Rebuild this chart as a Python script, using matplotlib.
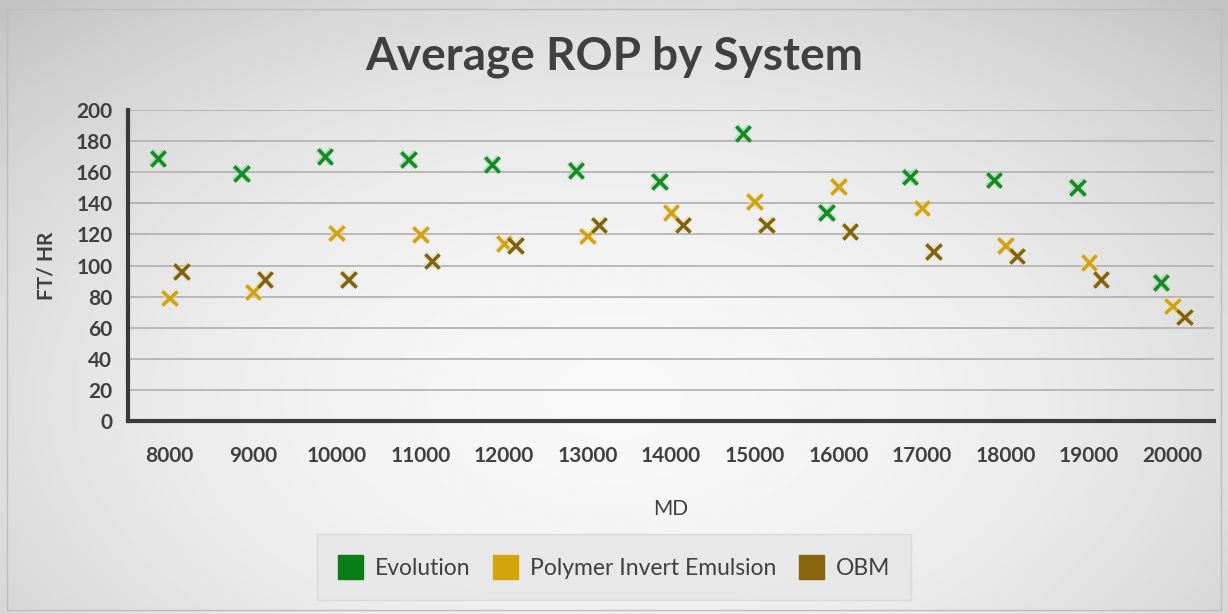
import matplotlib
matplotlib.use("Agg")
import matplotlib.pyplot as plt
import matplotlib.patheffects as pe
import numpy as np
from matplotlib.patches import Patch, Rectangle

plt.rcParams["font.family"] = ["Lato", "DejaVu Sans"]

md = ["8000", "9000", "10000", "11000", "12000", "13000", "14000",
      "15000", "16000", "17000", "18000", "19000", "20000"]
evolution = [169, 159, 170, 168, 165, 161, 154, 185, 134, 157, 155, 150, 89]
polymer = [79, 83, 121, 120, 114, 119, 134, 141, 151, 137, 113, 102, 74]
obm = [96, 91, 91, 103, 113, 126, 126, 126, 122, 109, 106, 91, 67]

series = [
    ("Evolution", evolution, "#168a26", "#8fd49a", -0.14),
    ("Polymer Invert Emulsion", polymer, "#d0a21a", "#f7e2a0", 0.0),
    ("OBM", obm, "#7f6314", "#e8d49a", 0.14),
]
legend_colors = ["#0b7d18", "#d4a40c", "#8a6510"]
text_col = "#404040"

fig = plt.figure(figsize=(12.28, 6.14), dpi=100)

# soft grey background like an Excel chart area
bg = fig.add_axes([0, 0, 1, 1], zorder=-5)
yy, xx = np.mgrid[0:1:300j, 0:1:600j]
r = np.sqrt(((xx - 0.5) / 0.75) ** 2 + ((yy - 0.35) / 0.9) ** 2)
bg.imshow(np.clip(0.97 - 0.22 * r ** 2, 0.76, 0.97), cmap="gray", vmin=0, vmax=1,
          aspect="auto", extent=[0, 1, 0, 1], origin="lower")
bg.set_axis_off()
fig.patches.append(Rectangle((0.006, 0.006), 0.988, 0.979, transform=fig.transFigure,
                             fill=False, edgecolor="#bdbdbd", linewidth=1))

ax = fig.add_axes([0.104, 0.3143, 0.885, 0.5065])
ax.set_facecolor("none")
x = np.arange(len(md))
for name, vals, col, glow, off in series:
    ax.plot(x + off, vals, linestyle="none", marker="x", markersize=10.5,
            markeredgewidth=2.2, color=col, zorder=3,
            path_effects=[pe.withStroke(linewidth=4.5, foreground=glow, alpha=0.6), pe.Normal()])

ax.set_xlim(-0.5, len(md) - 0.5)
ax.set_ylim(0, 200)
ax.set_yticks(range(0, 201, 20))
ax.set_xticks(x)
ax.set_xticklabels(md)
ax.tick_params(length=0, labelsize=15, labelcolor=text_col)
ax.tick_params(axis="x", pad=18)
ax.tick_params(axis="y", pad=11)
for lab in ax.get_xticklabels() + ax.get_yticklabels():
    lab.set_fontweight("bold")
ax.yaxis.grid(True, color="#b4b4b4", linewidth=1.3)
ax.set_axisbelow(True)
for s in ["top", "right"]:
    ax.spines[s].set_visible(False)
for s in ["left", "bottom"]:
    ax.spines[s].set_color("#3a3a3a")
    ax.spines[s].set_linewidth(3)

ax.set_ylabel("FT/ HR", fontsize=15, color=text_col, fontweight="bold", labelpad=14)
ax.set_xlabel("MD", fontsize=15, color=text_col, labelpad=24)

fig.text(0.5, 0.907, "Average ROP by System", ha="center", va="center",
         fontsize=33, fontweight="bold", color=text_col)

handles = [Patch(facecolor=c, edgecolor=c) for c in legend_colors]
leg = fig.legend(handles, [s[0] for s in series], loc="center", bbox_to_anchor=(0.5, 0.0765),
                 ncol=3, frameon=True, fontsize=16.5, handlelength=1.1, handleheight=1.25,
                 handletextpad=0.5, columnspacing=1.0, borderpad=0.9, fancybox=False)
leg.get_frame().set_facecolor("#e6e6e6")
leg.get_frame().set_edgecolor("#d6d6d6")
for t in leg.get_texts():
    t.set_color(text_col)

fig.savefig("out.png", dpi=100)
